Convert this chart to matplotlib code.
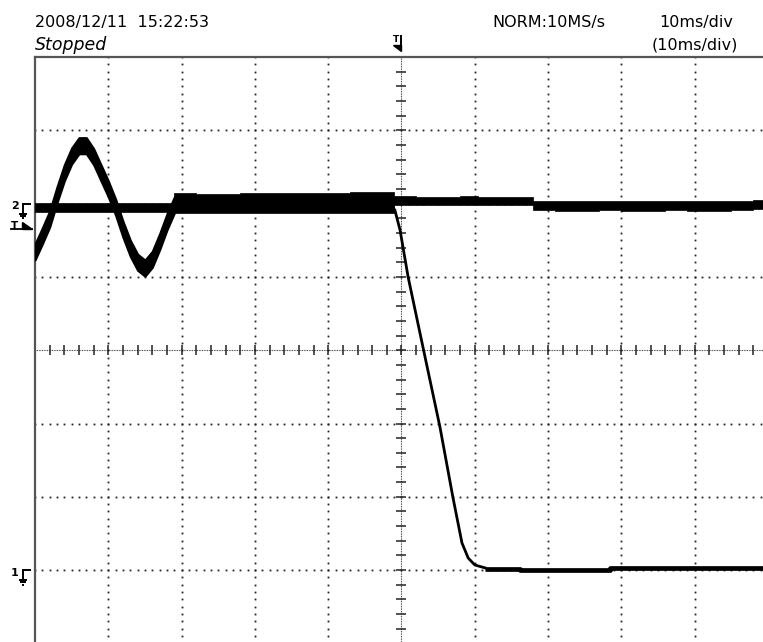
import matplotlib
matplotlib.use('Agg')
import matplotlib.pyplot as plt
from matplotlib.patches import Polygon
import numpy as np

W, H = 763, 642

# time in ms (10 ms/div), level in divisions (0 = bottom of screen, 8 = top)
ch1_gnd = 1.0
ch2_gnd = 6.0
trig_level = 5.65
trig_time = -0.6

# CH2: one mains cycle before it drops out, read every 1 ms
ch2_sine_t = [-50, -49, -48, -47, -46, -45, -44, -43, -42, -41,
              -40, -39, -38, -37, -36, -35, -34, -33, -32, -31]
ch2_sine_v = [5.34, 5.56, 5.79, 6.12, 6.42, 6.65, 6.79, 6.79, 6.64, 6.42,
              6.20, 5.95, 5.65, 5.39, 5.20, 5.12, 5.24, 5.48, 5.75, 5.98]

# CH2 after that: noise band, upper / lower edge
ch2_band_t = [-31, -28, -25, -22, -19, -16, -13, -10, -7, -4, -1, 2, 5, 8,
              10.5, 14, 18, 21, 24, 27, 30, 33, 36, 39, 42, 45, 48, 50]
ch2_band_hi = [6.14, 6.13, 6.125, 6.15, 6.14, 6.14, 6.145, 6.15, 6.155, 6.165,
               6.097, 6.09, 6.095, 6.11, 6.09, 6.085, 6.04, 6.035, 6.035, 6.03,
               6.04, 6.035, 6.03, 6.035, 6.03, 6.035, 6.055, 6.055]
ch2_band_lo = [5.872, 5.868, 5.872, 5.87, 5.875, 5.872, 5.866, 5.872, 5.872, 5.868,
               5.98, 5.977, 5.98, 5.978, 5.975, 5.98, 5.91, 5.905, 5.902, 5.908,
               5.905, 5.902, 5.908, 5.905, 5.902, 5.908, 5.93, 5.93]

# CH1: steady level, then falls to ground after the trigger
ch1_flat_t = [-50, -1]
ch1_flat_hi = [6.01, 6.01]
ch1_flat_lo = [5.885, 5.885]
ch1_fall_t = [-0.9, -0.2, 0.9, 3.1, 5.25, 7.0, 8.25, 9.1, 10.0, 11.4]
ch1_fall_v = [5.91, 5.64, 5.00, 3.96, 2.95, 2.00, 1.37, 1.165, 1.07, 1.03]
ch1_tail_t = [11.4, 16.2, 28.4, 50]
ch1_tail_v = [1.02, 1.005, 1.022, 1.022]

sine_half = 0.11  # half thickness of the noisy sine trace, div

fig = plt.figure(figsize=(W / 100, H / 100), dpi=100)
fig.patch.set_facecolor('white')
ax = fig.add_axes([35 / W, (H - 643.4) / H, 733 / W, 586.4 / H])
ax.set_xlim(-50, 50)
ax.set_ylim(0, 8)
ax.set_xticks([])
ax.set_yticks([])
for s in ax.spines.values():
    s.set_linewidth(1.6)
    s.set_color('#555555')

# graticule
gcol = '#222222'
for gx in [-40, -30, -20, -10, 10, 20, 30, 40]:
    ax.plot(np.full(81, gx), np.linspace(0, 8, 81), ls='none', marker='s',
            ms=1.3, mew=0, color=gcol, zorder=1)
for gy in [1, 2, 3, 5, 6, 7]:
    ax.plot(np.linspace(-50, 50, 101), np.full(101, gy), ls='none', marker='s',
            ms=1.3, mew=0, color=gcol, zorder=1)
ax.axvline(0, ls=(0, (0.75, 0.75)), lw=0.8, color='#333333', zorder=1)
ax.axhline(4, ls=(0, (0.75, 0.75)), lw=0.8, color='#333333', zorder=1)
ax.plot(np.zeros(41), np.linspace(0, 8, 41), ls='none', marker='_', ms=6.5,
        mew=1.1, color='#222222', zorder=1)
ax.plot(np.linspace(-50, 50, 51), np.full(51, 4), ls='none', marker='|', ms=6.5,
        mew=1.1, color='#222222', zorder=1)

# traces
t = np.array(ch2_sine_t)
v = np.array(ch2_sine_v)
ax.fill_between(t, v - sine_half, v + sine_half, color='black', lw=1.5, zorder=3)
ax.fill_between(ch2_band_t, ch2_band_lo, ch2_band_hi, step='post', color='black',
                lw=0.5, zorder=3)
ax.fill_between(ch1_flat_t, ch1_flat_lo, ch1_flat_hi, color='black', lw=0.5, zorder=3)
ax.plot(ch1_fall_t, ch1_fall_v, color='black', lw=2.0, zorder=3)
ax.plot(ch1_tail_t, ch1_tail_v, color='black', lw=3.4, drawstyle='steps-post',
        zorder=3, solid_capstyle='butt')

# overlay in pixel coordinates for the screen annotations
ov = fig.add_axes([0, 0, 1, 1], zorder=5)
ov.set_xlim(0, W)
ov.set_ylim(H, 0)
ov.axis('off')
ov.patch.set_alpha(0)


def ypix(level):
    return H - ax.transData.transform((0, level))[1]


def xpix(tm):
    return ax.transData.transform((tm, 0))[0]


def ground(label, yg):
    ov.text(15, yg + 2.8, label, ha='center', va='center', fontsize=8,
            fontweight='bold')
    kw = dict(color='black', lw=1.4, solid_capstyle='butt')
    ov.plot([22.5, 22.5], [yg, yg + 9.5], **kw)
    ov.plot([22, 30.5], [yg, yg], **kw)
    ov.plot([18.5, 27], [yg + 10, yg + 10], **kw)
    ov.plot([20, 25.5], [yg + 12.3, yg + 12.3], **kw)
    ov.plot([21.5, 24], [yg + 14.6, yg + 14.6], **kw)


ground('2', ypix(ch2_gnd))
ground('1', ypix(ch1_gnd))

# trigger level marker (left)
yt = ypix(trig_level)
ov.text(14.5, yt - 3.4, 'T', ha='center', va='center', fontsize=7.5, fontweight='bold')
ov.plot([10.5, 32], [yt, yt], color='black', lw=1.3)
ov.add_patch(Polygon([(22, yt - 7.5), (22, yt), (32, yt)], closed=True, color='black'))

# trigger position marker (top)
xt = xpix(trig_time)
ov.text(xt - 1.5, 40, 'T', ha='center', va='center', fontsize=6.5, fontweight='bold')
ov.plot([xt + 3.5, xt + 3.5], [36, 49], color='black', lw=1.4)
ov.add_patch(Polygon([(xt - 4.5, 44.5), (xt + 3.5, 44.5), (xt + 3.5, 50.5)], closed=True,
                     color='black'))

# header text
ov.text(35, 26.7, '2008/12/11  15:22:53', fontsize=11.5, va='baseline', ha='left')
ov.text(35, 49.5, 'Stopped', fontsize=12.5, style='italic', va='baseline', ha='left')
ov.text(492, 26.7, 'NORM:10MS/s', fontsize=11.5, va='baseline', ha='left')
ov.text(696, 26.7, '10ms/div', fontsize=11.5, va='baseline', ha='center')
ov.text(695, 49.3, '(10ms/div)', fontsize=11.5, va='baseline', ha='center')

fig.savefig('out.png', dpi=100)
